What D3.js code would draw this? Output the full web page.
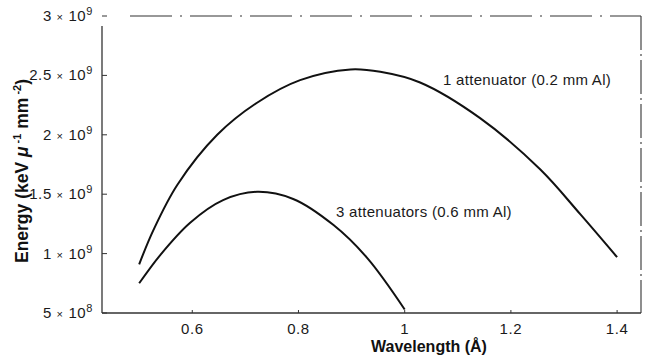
<!DOCTYPE html>
<html>
<head>
<meta charset="utf-8">
<script src="https://cdn.jsdelivr.net/npm/d3@7"></script>
<style>
  html, body { margin: 0; padding: 0; background: #fff; }
  svg { display: block; font-family: "Liberation Sans", Arial, Helvetica, sans-serif; }
  .tick-label { fill: #1a1a1a; font-size: 15px; }
  .axis-title { fill: #111; font-size: 16px; font-weight: bold; }
  .curve-label { fill: #1a1a1a; font-size: 15px; letter-spacing: 0.3px; }
</style>
</head>
<body>
<svg id="chart" width="647" height="358"></svg>
<script>
// values
const wavelength1 = [0.5, 0.527, 0.572, 0.647, 0.722, 0.803, 0.898, 0.954, 1.029, 1.142, 1.255, 1.331, 1.4];
const energy1 = [9.1e8, 1.2e9, 1.58e9, 2.0e9, 2.27e9, 2.46e9, 2.55e9, 2.53e9, 2.44e9, 2.14e9, 1.71e9, 1.33e9, 9.7e8];

const wavelength3 = [0.5, 0.54, 0.596, 0.658, 0.722, 0.79, 0.866, 0.93, 1.0];
const energy3 = [7.5e8, 9.9e8, 1.26e9, 1.45e9, 1.52e9, 1.46e9, 1.24e9, 9.6e8, 5.3e8];

const xTicks = [0.6, 0.8, 1, 1.2, 1.4];
const yTicks = [5e8, 1e9, 1.5e9, 2e9, 2.5e9, 3e9];

const seriesLabels = ["1 attenuator (0.2 mm Al)", "3 attenuators (0.6 mm Al)"];

const svg = d3.select("#chart");
const plotL = 102, plotR = 641, plotT = 16, plotB = 313;

const x = d3.scaleLinear().domain([0.43, 1.445]).range([plotL, plotR]);
const y = d3.scaleLinear().domain([5e8, 3e9]).range([plotB, plotT]);

// frame: left/bottom solid, top/right broken like the scan
svg.append("line").attr("x1", plotL).attr("x2", plotL).attr("y1", plotT + 10).attr("y2", plotB)
   .attr("stroke", "#333").attr("stroke-width", 1.3);
svg.append("line").attr("x1", plotL).attr("x2", plotR).attr("y1", plotB).attr("y2", plotB)
   .attr("stroke", "#333").attr("stroke-width", 1.3);
svg.append("line").attr("x1", plotL + 28).attr("x2", plotR).attr("y1", plotT).attr("y2", plotT)
   .attr("stroke", "#333").attr("stroke-width", 1.1).attr("stroke-dasharray", "42,8,2,8");
svg.append("line").attr("x1", plotR).attr("x2", plotR).attr("y1", plotT).attr("y2", plotB)
   .attr("stroke", "#333").attr("stroke-width", 1.1).attr("stroke-dasharray", "34,4,2,4");

// x axis ticks and labels
const xAxis = svg.append("g");
xAxis.selectAll("line").data(xTicks).enter().append("line")
     .attr("x1", d => x(d)).attr("x2", d => x(d))
     .attr("y1", plotB).attr("y2", plotB - 3)
     .attr("stroke", "#333");
xAxis.selectAll("text").data(xTicks).enter().append("text")
     .attr("class", "tick-label")
     .attr("x", d => x(d)).attr("y", plotB + 21)
     .attr("text-anchor", "middle")
     .attr("letter-spacing", 0.6)
     .text(d => d3.format("~g")(d));

// y axis ticks and labels with  m × 10^e
const yAxis = svg.append("g");
yAxis.selectAll("line").data(yTicks).enter().append("line")
     .attr("x1", plotL).attr("x2", plotL + 5)
     .attr("y1", d => y(d)).attr("y2", d => y(d))
     .attr("stroke", "#333");
const yLab = yAxis.selectAll("text").data(yTicks).enter().append("text")
     .attr("class", "tick-label")
     .attr("x", 93).attr("y", d => y(d) + 5)
     .attr("text-anchor", "end")
     .attr("letter-spacing", 0.6);
yLab.each(function(d) {
    const e = Math.floor(Math.log10(d));
    const m = +(d / Math.pow(10, e)).toFixed(2);
    const t = d3.select(this);
    t.append("tspan").text(m + " ");
    t.append("tspan").attr("font-size", 11).text("×");
    t.append("tspan").text(" 10");
    t.append("tspan").attr("font-size", 11).attr("dy", -6).text(e);
});

// curves
const line = d3.line().x(d => x(d[0])).y(d => y(d[1])).curve(d3.curveCatmullRom.alpha(0.5));
const curves = [d3.zip(wavelength1, energy1), d3.zip(wavelength3, energy3)];
svg.selectAll(".curve").data(curves).enter().append("path")
   .attr("class", "curve")
   .attr("d", line)
   .attr("fill", "none")
   .attr("stroke", "#111")
   .attr("stroke-width", 2);

// curve labels
svg.append("text").attr("class", "curve-label").attr("x", 443).attr("y", 85).text(seriesLabels[0]);
svg.append("text").attr("class", "curve-label").attr("x", 336).attr("y", 217).text(seriesLabels[1]);

// axis titles
svg.append("text").attr("class", "axis-title")
   .attr("x", 429).attr("y", 352)
   .attr("text-anchor", "middle")
   .text("Wavelength (Å)");

const yt = svg.append("text").attr("class", "axis-title")
   .attr("transform", "translate(28,171) rotate(-90)")
   .attr("text-anchor", "middle")
   .style("font-size", "17.5px");
yt.append("tspan").text("Energy (keV ");
yt.append("tspan").attr("font-style", "italic").text("μ");
yt.append("tspan").attr("font-size", 11).attr("dy", -7).text(" -1");
yt.append("tspan").attr("dy", 7).text(" mm");
yt.append("tspan").attr("font-size", 11).attr("dy", -7).text(" -2");
yt.append("tspan").attr("dy", 7).text(")");
</script>
</body>
</html>
